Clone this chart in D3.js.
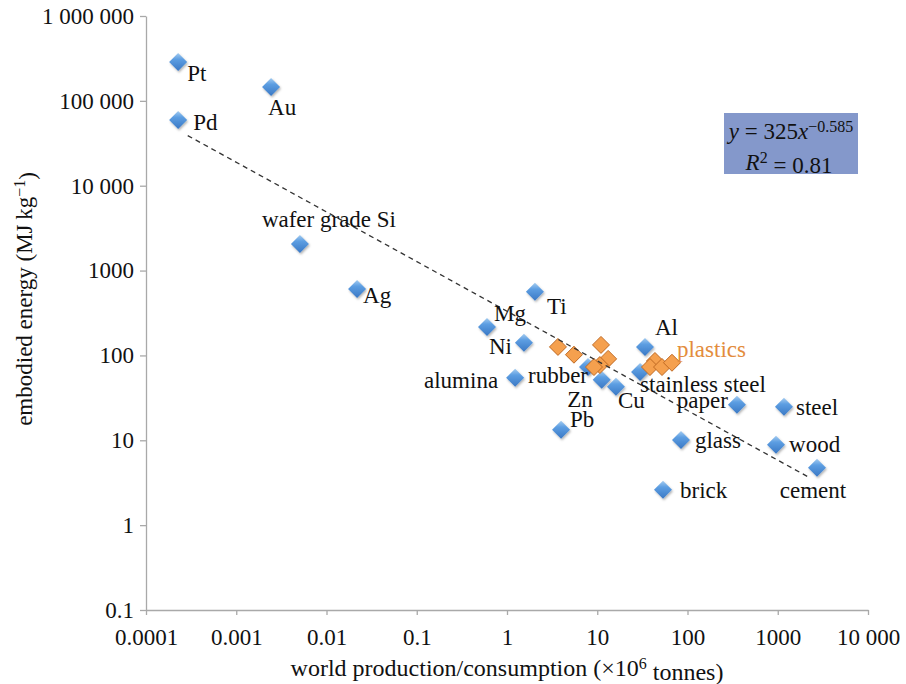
<!DOCTYPE html>
<html>
<head>
<meta charset="utf-8">
<script src="https://cdn.jsdelivr.net/npm/d3@7"></script>
</head>
<body style="margin:0;background:#fff">
<div id="chart"></div>
<script>
// materials: world production (x10^6 t) vs embodied energy (MJ/kg)
const names = ["Pt", "Pd", "Au", "wafer grade Si", "Ag", "Mg", "Ni", "Ti", "alumina", "rubber",
  "Zn", "Pb", "Cu", "Al", "stainless steel", "paper", "steel", "glass", "wood", "cement", "brick"];
const production = [2.27e-4, 2.27e-4, 0.00243, 0.00508, 0.0218, 0.6, 1.54, 2.04, 1.23, 7.9,
  11.2, 3.97, 16.1, 33.8, 29.8, 353, 1172, 84.7, 957, 2723, 53.5];
const energy = [287000, 59600, 146000, 2060, 608, 217, 141, 561, 54.5, 73,
  51.6, 13.3, 42.7, 126, 64, 26.2, 24.8, 10.1, 8.85, 4.74, 2.61];

// plastics series (orange)
const plasticsProduction = [3.67, 5.52, 11.0, 13.2, 10.7, 9.2, 43.6, 38.4, 52.2, 67.3];
const plasticsEnergy = [126, 102, 133, 91, 77, 73, 86, 73, 73, 82];

// power-law trend line end points, y = 325x^-0.585
const trendX = [2.9e-4, 2280];
const trendY = [39000, 3.6];

// axis ticks
const xTicks = [1e-4, 1e-3, 1e-2, 1e-1, 1, 10, 100, 1000, 10000];
const xTickLabels = ["0.0001", "0.001", "0.01", "0.1", "1", "10", "100", "1000", "10 000"];
const yTicks = [0.1, 1, 10, 100, 1000, 1e4, 1e5, 1e6];
const yTickLabels = ["0.1", "1", "10", "100", "1000", "10 000", "100 000", "1 000 000"];

// label placement relative to marker: [dx, dy, anchor]
const labelPos = {
  "Pt": [9, 19, "start"], "Pd": [15, 10, "start"], "Au": [-3, 28, "start"],
  "wafer grade Si": [29, -17, "middle"], "Ag": [6, 14, "start"], "Mg": [7, -6, "start"],
  "Ni": [-12, 11, "end"], "Ti": [12, 22, "start"], "alumina": [-17, 10, "end"],
  "rubber": [0, 16, "end"], "Zn": [-9, 27, "end"], "Pb": [9, -3, "start"],
  "Cu": [2, 21, "start"], "Al": [10, -12, "start"], "stainless steel": [0, 20, "start"],
  "paper": [-9, 3, "end"], "steel": [12, 8, "start"], "glass": [14, 8, "start"],
  "wood": [13, 7, "start"], "cement": [-4, 30, "middle"], "brick": [17, 8, "start"]
};

const width = 906, height = 684;
const plot = { left: 146, right: 868, top: 16, bottom: 610 };
const axisColor = "#a9a9a9";
const serif = "'Liberation Serif'";

const svg = d3.select("#chart").append("svg")
  .attr("width", width)
  .attr("height", height)
  .style("font-family", serif);

svg.append("rect").attr("width", width).attr("height", height).attr("fill", "#fff");

const defs = svg.append("defs");
const grad = defs.append("linearGradient")
  .attr("id", "blueGrad").attr("x1", 0).attr("y1", 0).attr("x2", 0).attr("y2", 1);
grad.append("stop").attr("offset", "0%").attr("stop-color", "#a4ccf0");
grad.append("stop").attr("offset", "35%").attr("stop-color", "#5d9ee2");
grad.append("stop").attr("offset", "100%").attr("stop-color", "#3a78c4");

const shadow = defs.append("filter").attr("id", "shadow")
  .attr("x", "-50%").attr("y", "-50%").attr("width", "200%").attr("height", "200%");
shadow.append("feDropShadow")
  .attr("dx", 1).attr("dy", 1.5).attr("stdDeviation", 1.2)
  .attr("flood-color", "#000").attr("flood-opacity", 0.3);

// scales
const x = d3.scaleLog().domain([1e-4, 1e4]).range([plot.left, plot.right]);
const y = d3.scaleLog().domain([0.1, 1e6]).range([plot.bottom, plot.top]);

// axes
const xAxis = svg.append("g")
  .attr("transform", `translate(0,${plot.bottom})`)
  .call(d3.axisBottom(x).tickValues(xTicks)
    .tickFormat((d, i) => xTickLabels[i])
    .tickSize(5).tickSizeOuter(0).tickPadding(14));

const yAxis = svg.append("g")
  .attr("transform", `translate(${plot.left},0)`)
  .call(d3.axisLeft(y).tickValues(yTicks)
    .tickFormat((d, i) => yTickLabels[i])
    .tickSize(6).tickSizeOuter(0).tickPadding(6));

[xAxis, yAxis].forEach((g) => {
  g.attr("font-family", null).attr("font-size", null);
  g.select(".domain").attr("stroke", axisColor).attr("stroke-width", 1.3);
  g.selectAll(".tick line").attr("stroke", axisColor).attr("stroke-width", 1.3);
  g.selectAll(".tick text")
    .attr("fill", "#111")
    .style("font-family", serif)
    .style("font-size", "23px");
});

// axis titles
const xTitle = svg.append("text")
  .attr("x", (plot.left + plot.right) / 2)
  .attr("y", 676)
  .attr("text-anchor", "middle")
  .attr("fill", "#111")
  .style("font-family", serif)
  .style("font-size", "24px");
xTitle.append("tspan").text("world production/consumption (\u00d710");
xTitle.append("tspan").attr("dy", "-0.45em").style("font-size", "16px").text("6");
xTitle.append("tspan").attr("dy", "0.45em").text(" tonnes)");

const yTitle = svg.append("text")
  .attr("transform", `translate(32,${(plot.top + plot.bottom) / 2 - 14}) rotate(-90)`)
  .attr("text-anchor", "middle")
  .attr("fill", "#111")
  .style("font-family", serif)
  .style("font-size", "23px");
yTitle.append("tspan").text("embodied energy (MJ\u2009kg");
yTitle.append("tspan").attr("dy", "-0.45em").style("font-size", "16px").text("\u22121");
yTitle.append("tspan").attr("dy", "0.45em").text(")");

// diamond marker path
const diamond = (r) => `M0,${-r}L${r},0L0,${r}L${-r},0Z`;

const materials = names.map((n, i) => ({ name: n, prod: production[i], energy: energy[i] }));
const plastics = plasticsProduction.map((p, i) => ({ prod: p, energy: plasticsEnergy[i] }));

svg.append("g").selectAll("path")
  .data(materials)
  .join("path")
  .attr("d", diamond(9))
  .attr("transform", (d) => `translate(${x(d.prod)},${y(d.energy)})`)
  .attr("fill", "url(#blueGrad)")
  .attr("filter", "url(#shadow)");

svg.append("g").selectAll("path")
  .data(plastics)
  .join("path")
  .attr("d", diamond(8.5))
  .attr("transform", (d) => `translate(${x(d.prod)},${y(d.energy)})`)
  .attr("fill", "#f5a04e")
  .attr("stroke", "#c06a24")
  .attr("stroke-width", 1);

// trend line
const trend = trendX.map((t, i) => [t, trendY[i]]);
svg.append("path")
  .datum(trend)
  .attr("d", d3.line().x((d) => x(d[0])).y((d) => y(d[1])))
  .attr("fill", "none")
  .attr("stroke", "#333")
  .attr("stroke-width", 1.3)
  .attr("stroke-dasharray", "5,4");

// point labels
svg.append("g").selectAll("text")
  .data(materials)
  .join("text")
  .attr("x", (d) => x(d.prod) + labelPos[d.name][0])
  .attr("y", (d) => y(d.energy) + labelPos[d.name][1])
  .attr("text-anchor", (d) => labelPos[d.name][2])
  .attr("fill", "#111")
  .style("font-family", serif)
  .style("font-size", "23px")
  .text((d) => d.name);

const lastPlastic = plastics[plastics.length - 1];
svg.append("text")
  .attr("x", x(lastPlastic.prod) + 5)
  .attr("y", y(lastPlastic.energy) - 6)
  .attr("fill", "#e38c3c")
  .style("font-family", serif)
  .style("font-size", "23px")
  .text("plastics");

// equation box
const box = svg.append("g");
box.append("rect")
  .attr("x", 724).attr("y", 113)
  .attr("width", 134).attr("height", 61)
  .attr("fill", "#8498cb");
const eq = box.append("text")
  .attr("x", 791).attr("y", 139)
  .attr("text-anchor", "middle")
  .attr("fill", "#111")
  .style("font-family", serif)
  .style("font-size", "23px");
eq.append("tspan").style("font-style", "italic").text("y");
eq.append("tspan").text(" = 325");
eq.append("tspan").style("font-style", "italic").text("x");
eq.append("tspan").attr("dy", "-0.45em").style("font-size", "16px").text("\u22120.585");
const r2 = box.append("text")
  .attr("x", 789).attr("y", 170)
  .attr("text-anchor", "middle")
  .attr("fill", "#111")
  .style("font-family", serif)
  .style("font-size", "23px");
r2.append("tspan").style("font-style", "italic").text("R");
r2.append("tspan").attr("dy", "-0.45em").style("font-size", "16px").text("2");
r2.append("tspan").attr("dy", "0.45em").text(" = 0.81");
</script>
</body>
</html>
